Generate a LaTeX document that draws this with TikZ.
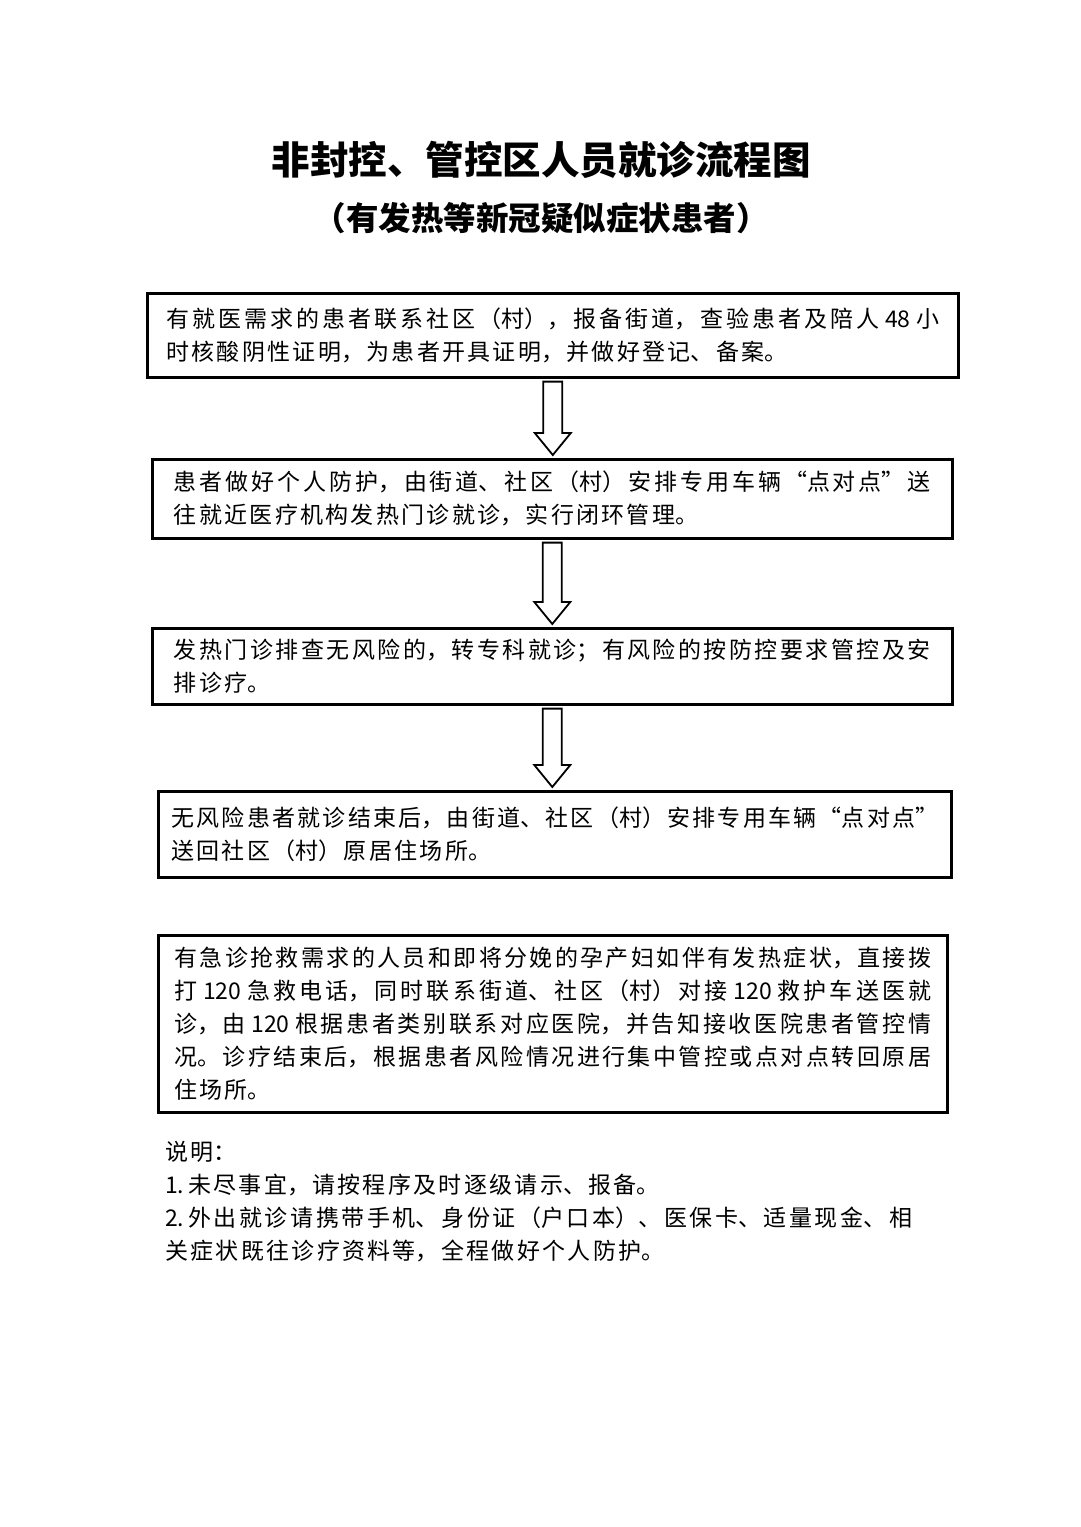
\documentclass[tikz,border=0pt]{standalone}
\usepackage{fontspec}
\setmainfont{Noto Sans CJK SC}
\usetikzlibrary{calc}
\XeTeXlinebreaklocale "zh"
\XeTeXlinebreakskip=2.3pt plus 3pt minus 1pt

\tikzset{
  stepbox/.style={draw, line width=2.6, anchor=north west, align=justify, inner ysep=0pt,
    font=\fontsize{23}{33}\selectfont},
  hollow/.style={line width=1.8, to path={let \p1=(\tikztostart), \p2=(\tikztotarget) in
    (\x1-9.5pt,\y1-3pt) -- (\x1+9.5pt,\y1-3pt) -- (\x1+9.5pt,\y2+25pt) -- (\x1+18pt,\y2+25pt)
    -- (\x1,\y2+3pt) -- (\x1-18pt,\y2+25pt) -- (\x1-9.5pt,\y2+25pt) -- cycle}},
}

\begin{document}
\begin{tikzpicture}[x=1pt,y=-1pt]
\useasboundingbox (0,0) rectangle (1080,1527);

% Title
\node[font=\fontsize{38.5}{46}\selectfont\bfseries] (title) at (541,160) {非封控、管控区人员就诊流程图};
\node[font=\fontsize{32.5}{40}\selectfont\bfseries] (subtitle) at (541,218) {（有发热等新冠疑似症状患者）};

%Shape: Rectangle
\node[stepbox, text width=773pt, inner xsep=19pt, minimum height=84] (b1) at (146,292)
  {有就医需求的患者联系社区（村），报备街道，查验患者及陪人 48 小\linebreak 时核酸阴性证明，为患者开具证明，并做好登记、备案。};
%Shape: Rectangle
\node[stepbox, text width=757pt, inner xsep=21.5pt, minimum height=79] (b2) at (151,458)
  {患者做好个人防护，由街道、社区（村）安排专用车辆“点对点”送\linebreak 往就近医疗机构发热门诊就诊，实行闭环管理。};
%Shape: Rectangle
\node[stepbox, text width=757pt, inner xsep=21.5pt, minimum height=76] (b3) at (151,627)
  {发热门诊排查无风险的，转专科就诊；有风险的按防控要求管控及安\linebreak 排诊疗。};
%Shape: Rectangle
\node[stepbox, text width=767pt, inner xsep=13pt, minimum height=86] (b4) at (157,790)
  {无风险患者就诊结束后，由街道、社区（村）安排专用车辆“点对点”\linebreak 送回社区（村）原居住场所。};
%Shape: Rectangle
\node[stepbox, text width=757pt, inner xsep=16pt, minimum height=177] (b5) at (157,934)
  {有急诊抢救需求的人员和即将分娩的孕产妇如伴有发热症状，直接拨\linebreak
   打 120 急救电话，同时联系街道、社区（村）对接 120 救护车送医就\linebreak
   诊，由 120 根据患者类别联系对应医院，并告知接收医院患者管控情\linebreak
   况。诊疗结束后，根据患者风险情况进行集中管控或点对点转回原居\linebreak
   住场所。};

% Block arrows
\draw[hollow] (b1.south) to (b2.north);
\draw[hollow] (b2.south) to (b3.north);
\draw[hollow] (b3.south) to (b4.north);

% Text Node
\node[anchor=north west, inner sep=0pt, text width=747pt, align=justify,
  font=\fontsize{23}{33}\selectfont] (note) at (165,1141)
  {说明：\\
   1.\,未尽事宜，请按程序及时逐级请示、报备。\\
   2.\,外出就诊请携带手机、身份证（户口本）、医保卡、适量现金、相\linebreak
   关症状既往诊疗资料等，全程做好个人防护。};

\end{tikzpicture}
\end{document}
